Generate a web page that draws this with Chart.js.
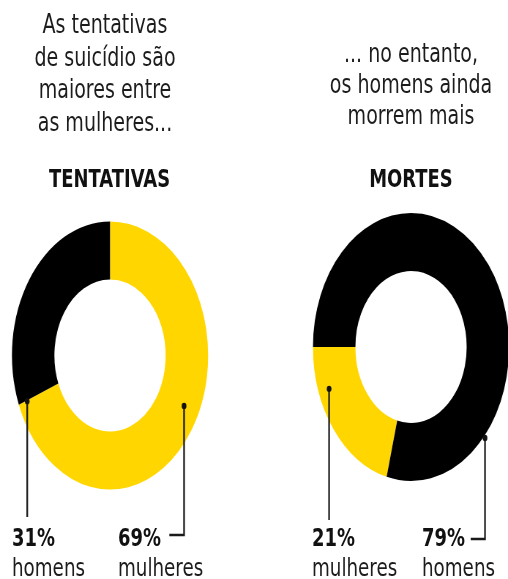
<!DOCTYPE html>
<html lang="pt-BR">
<head>
<meta charset="utf-8">
<script src="https://cdn.jsdelivr.net/npm/chart.js@4"></script>
<style>
  html, body { margin: 0; padding: 0; background: #fff; width: 508px; height: 579px; overflow: hidden; }
  /* the whole graphic is laid out wide and squeezed horizontally */
  #wrap { position: absolute; left: 0; top: 0; width: 700px; height: 579px;
          transform: scaleX(0.732); transform-origin: 0 0;
          font-family: "DejaVu Sans", sans-serif; color: #1c1c1c; }
  .lead { position: absolute; width: 340px; text-align: center; font-size: 26px; }
  .title { position: absolute; width: 340px; text-align: center; font-size: 24.5px;
           font-weight: bold; line-height: 30px; top: 163.5px; color: #111; }
  .tag { position: absolute; top: 523.2px; line-height: 30px; white-space: nowrap; }
  .tag b { display: block; font-size: 24.5px; color: #111; }
  .tag span { display: block; font-size: 25px; }
  canvas { position: absolute; top: 190px; width: 350px; height: 389px; }
</style>
</head>
<body>
<div id="wrap">
  <div class="lead" style="left:-26.6px; top:8px; line-height:32.5px;">As tentativas<br>de suicídio são<br>maiores entre<br>as mulheres...</div>
  <div class="lead" style="left:391.5px; top:38.2px; line-height:31px;">... no entanto,<br>os homens ainda<br>morrem mais</div>

  <div class="title" id="t1" style="left:-20.4px;"></div>
  <div class="title" id="t2" style="left:391.5px;"></div>

  <canvas id="c1" width="350" height="389" style="left:0px;"></canvas>
  <canvas id="c2" width="350" height="389" style="left:350px;"></canvas>

  <div class="tag" id="tagTH" style="left:16.4px;"></div>
  <div class="tag" id="tagTM" style="left:161.2px;"></div>
  <div class="tag" id="tagMM" style="left:426.2px;"></div>
  <div class="tag" id="tagMH" style="left:576.5px;"></div>
</div>

<script>
// data
const chartTitles = ['TENTATIVAS', 'MORTES'];
const groups = ['mulheres', 'homens'];
const tentativas = [69, 31];   // % por sexo
const mortes = [21, 79];
const groupColors = ['#ffd600', '#000000'];

document.getElementById('t1').textContent = chartTitles[0];
document.getElementById('t2').textContent = chartTitles[1];

function setTag(id, value, name) {
  document.getElementById(id).innerHTML = '<b>' + value + '%</b><span>' + name + '</span>';
}
setTag('tagTH', tentativas[1], groups[1]);
setTag('tagTM', tentativas[0], groups[0]);
setTag('tagMM', mortes[0], groups[0]);
setTag('tagMH', mortes[1], groups[1]);

// dot on the ring + line down to its label
function leaderPlugin(leaders) {
  return {
    id: 'leaders',
    afterDatasetsDraw(chart) {
      const arc = chart.getDatasetMeta(0).data[0];
      const ctx = chart.ctx;
      ctx.save();
      ctx.strokeStyle = '#1a1a1a';
      ctx.fillStyle = '#111';
      ctx.lineWidth = 2.3;
      leaders.forEach(l => {
        const a = l.angle * Math.PI / 180;
        const x = arc.x + l.r * Math.sin(a);
        const y = arc.y - l.r * Math.cos(a);
        ctx.beginPath();
        ctx.moveTo(x, y);
        ctx.lineTo(x, l.toY);
        if (l.tailX != null) ctx.lineTo(l.tailX, l.toY);
        ctx.stroke();
        ctx.beginPath();
        ctx.arc(x, y, 3.2, 0, Math.PI * 2);
        ctx.fill();
      });
      ctx.restore();
    }
  };
}

function ring(id, values, rotation, padding, leaders) {
  return new Chart(document.getElementById(id), {
    type: 'doughnut',
    data: {
      labels: groups,
      datasets: [{
        data: values,
        backgroundColor: groupColors,
        borderWidth: 0,
        hoverOffset: 0
      }]
    },
    options: {
      responsive: false,
      animation: false,
      devicePixelRatio: 1,
      radius: 134,
      cutout: '56.7%',
      rotation: rotation,
      layout: { padding: padding },
      plugins: { legend: { display: false }, tooltip: { enabled: false } }
    },
    plugins: [leaderPlugin(leaders)]
  });
}

// mulheres start at 12 o'clock
ring('c1', tentativas, 0,
  { left: 14.3, right: 63.7, top: 29.5, bottom: 87.5 },
  [
    { angle: 248, r: 122, toY: 327 },
    { angle: 116.5, r: 113, toY: 345, tailX: 231.3 }
  ]);

// mulheres end at 9 o'clock
ring('c2', mortes, 270 - mortes[0] * 3.6,
  { left: 75.5, right: 2.5, top: 21, bottom: 96 },
  [
    { angle: 249.5, r: 119.5, toY: 330 },
    { angle: 132, r: 136, toY: 349, tailX: 293 }
  ]);
</script>
</body>
</html>
